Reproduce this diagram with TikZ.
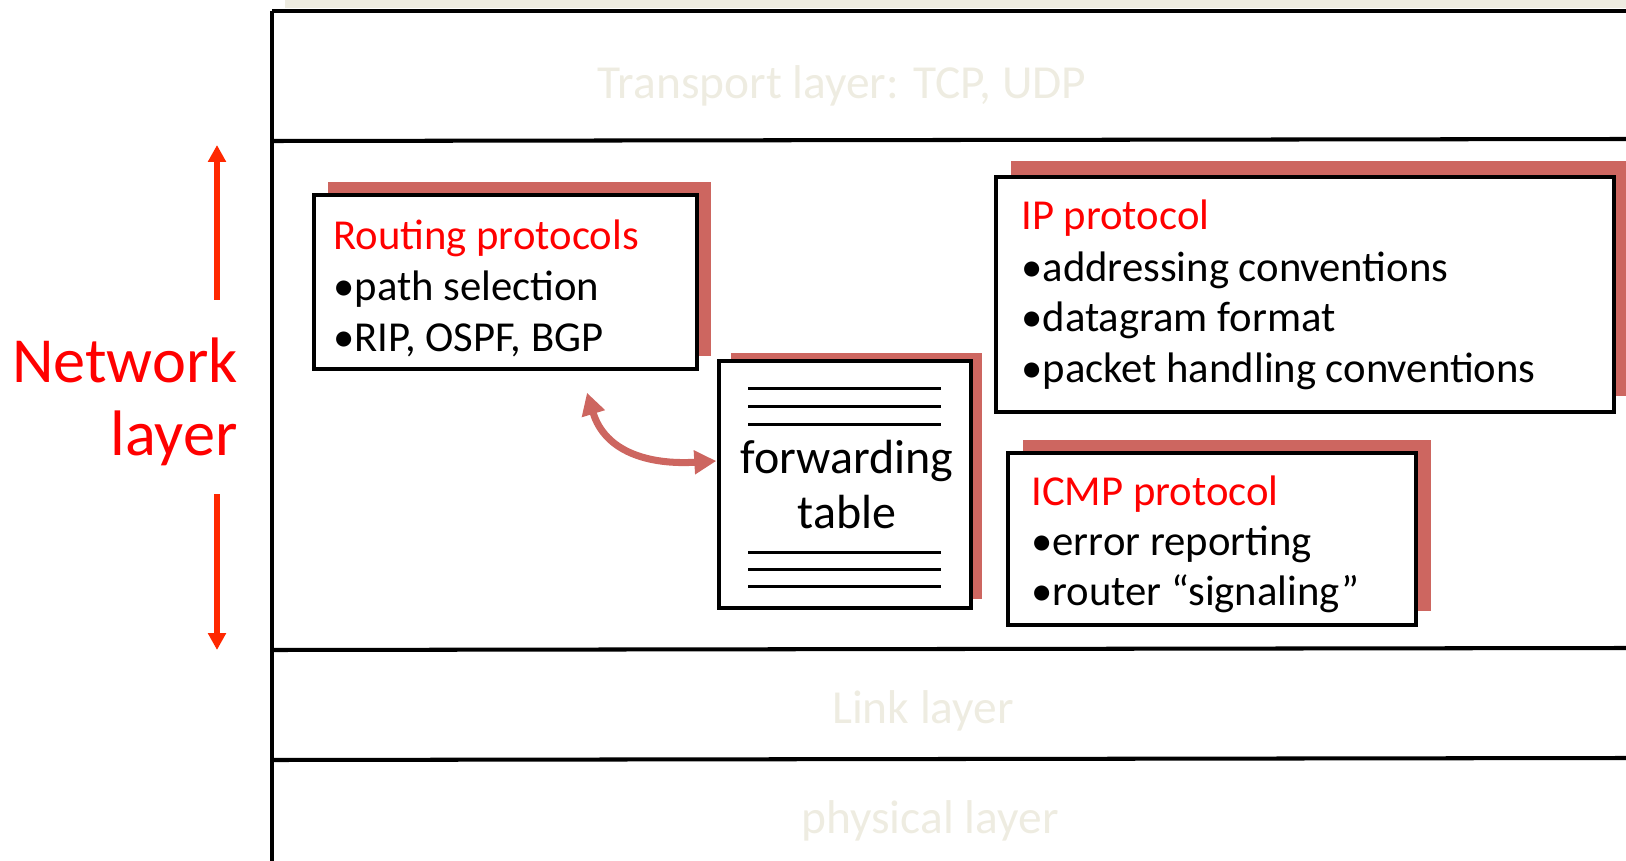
\documentclass[tikz,border=0pt]{standalone}
\usepackage{fontspec}
\setmainfont{Carlito}
\usetikzlibrary{arrows.meta, shadows, calc}
\definecolor{ShadeRed}{RGB}{205,102,96}
\definecolor{PaleText}{RGB}{238,236,225}
\definecolor{HeadRed}{RGB}{255,0,0}
\definecolor{ArrowRed}{RGB}{255,40,0}

\begin{document}
\begin{tikzpicture}[x=0.02cm, y=-0.02cm,
    pbox/.style={draw=black, line width=2pt, fill=white, inner sep=0pt},
    shd/.style 2 args={drop shadow={shadow xshift=#1, shadow yshift=#2,
                       fill=ShadeRed, opacity=1}},
    hd/.style={anchor=base west, inner sep=0pt, text=HeadRed,
               font=\fontsize{24.3}{29}\selectfont},
    item/.style={anchor=base west, inner sep=0pt,
                 font=\fontsize{24.3}{29}\selectfont},
    lyr/.style={anchor=base, inner sep=0pt, text=PaleText,
                font=\fontsize{27}{32}\selectfont},
    net/.style={anchor=base east, inner sep=0pt, text=HeadRed,
                font=\fontsize{36.6}{43}\selectfont},
    sep/.style={line width=2.3pt},
    rows/.style={line width=1.9pt},
    updown/.style={draw=ArrowRed, line width=3.6pt,
                   -{Triangle[length=9.6pt,width=9.8pt]}},
    curv/.style={draw=ShadeRed, line width=4pt,
                 {Triangle[length=12.5pt,width=13pt]}-{Triangle[length=12.5pt,width=13pt]}}
  ]
  \useasboundingbox (0,0) rectangle (1626,861);

  % layer stack
  \fill[PaleText] (285,0) rectangle (1626,8);
  \draw[sep] (272,11) -- (1626,11);
  \draw[sep] (272,141) -- (1626,139);
  \draw[sep] (272,650) -- (1626,648);
  \draw[sep] (272,760) -- (1626,758);
  \draw[line width=1.9pt] (272,11) -- (272,861);
  \node[lyr] (tport) at (842,99) {Transport layer: TCP, UDP};
  \node[lyr] (link) at (923,723) {Link layer};
  \node[lyr] (phys) at (930,833) {physical layer};

  % network layer label
  \node[net] (netA) at (238,382) {Network};
  \node[net] (netB) at (238,456) {layer};
  \coordinate (upTail) at (217,300);
  \coordinate (upTip) at (217,145);
  \coordinate (dnTail) at (217,494);
  \coordinate (dnTip) at (217,650);
  \draw[updown] (upTail) -- (upTip);
  \draw[updown] (dnTail) -- (dnTip);

  % routing
  \node[pbox, shd={0.28cm}{0.26cm}, minimum width=7.66cm, minimum height=3.48cm] (rout) at (505.5,282) {};
  \node[hd] (routT) at (333,250) {Routing protocols};
  \node[item] (routA) at (333,301) {•path selection};
  \node[item] (routB) at (333,352) {•RIP, OSPF, BGP};

  % forwarding table
  \node[pbox, shd={0.23cm}{0.17cm}, minimum width=5.04cm, minimum height=4.94cm] (fwd) at (845,484.5) {};
  \node[anchor=base, inner sep=0pt, font=\fontsize{27.3}{32}\selectfont] (fwdA) at (847,473) {forwarding};
  \node[anchor=base, inner sep=0pt, font=\fontsize{27.3}{32}\selectfont] (fwdB) at (847,528) {table};
  \foreach \dy in {29,47,65}
    \draw[rows] ($(fwd.north west)+(31,\dy)$) -- ($(fwd.north east)+(-32,\dy)$);
  \foreach \dy in {57,40,23}
    \draw[rows] ($(fwd.south west)+(31,-\dy)$) -- ($(fwd.south east)+(-32,-\dy)$);

  % IP
  \node[pbox, shd={0.3cm}{0.32cm}, minimum width=12.36cm, minimum height=4.7cm] (ip) at (1305,294.5) {};
  \node[hd] (ipT) at (1021,230) {IP protocol};
  \node[item] (ipA) at (1021,282) {•addressing conventions};
  \node[item] (ipB) at (1021,332) {•datagram format};
  \node[item] (ipC) at (1021,382) {•packet handling conventions};

  % ICMP
  \node[pbox, shd={0.3cm}{0.27cm}, minimum width=8.16cm, minimum height=3.44cm] (icmp) at (1212,539) {};
  \node[hd] (icmpT) at (1031,505) {ICMP protocol};
  \node[item] (icmpA) at (1031,555) {•error reporting};
  \node[item] (icmpB) at (1031,605) {•router “signaling”};

  \draw[curv] ($(rout.south)+(81.5,22)$) .. controls +(18,59) and +(-68,4) .. ($(fwd.west)+(-1,-23.5)$);
\end{tikzpicture}
\end{document}
